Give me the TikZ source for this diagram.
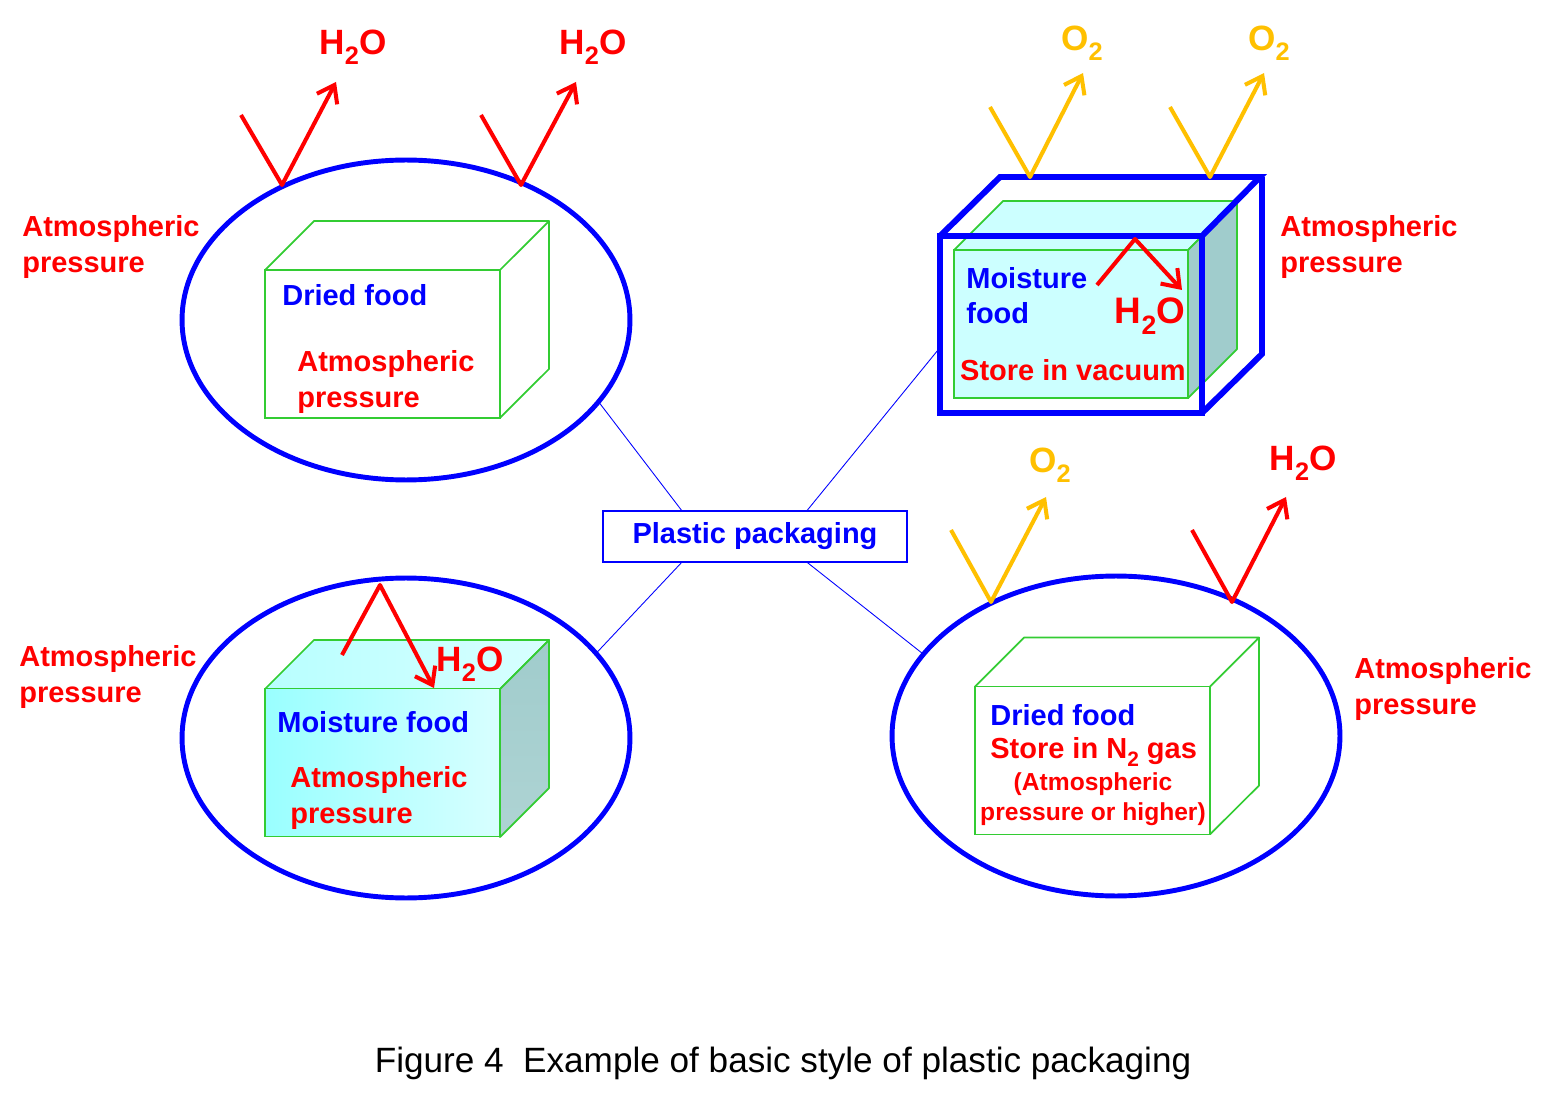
\documentclass[tikz,border=0pt]{standalone}
\usepackage{fontspec}
\setmainfont{Liberation Sans}
\usepackage{tikz}
\usetikzlibrary{shapes.geometric,arrows.meta,calc}

\definecolor{boxgreen}{HTML}{33CC33}
\definecolor{gold}{HTML}{FFC000}
\definecolor{cyandark}{HTML}{99FFFF}
\definecolor{cyanlight}{HTML}{D8FFFF}
\definecolor{cyanflat}{HTML}{CCFFFF}
\definecolor{sideteal}{HTML}{A0CCCC}

\newcommand{\lowsub}[1]{\raisebox{-0.28em}{\scalebox{0.72}{#1}}}

\tikzset{
  bag/.style={ellipse,draw=blue,line width=2.8pt,minimum width=8.96cm,minimum height=6.4cm,inner sep=0,outer sep=0},
  face/.style={rectangle,draw=boxgreen,line width=1pt,minimum width=4.7cm,minimum height=2.96cm,inner sep=0,outer sep=0},
  edge/.style={draw=boxgreen,line width=1pt,line join=round},
  redtxt/.style={text=red,font=\bfseries\fontsize{16.5}{20}\selectfont,align=left,inner sep=0},
  bluetxt/.style={text=blue,font=\bfseries\fontsize{16.5}{20}\selectfont,align=left,inner sep=0},
  gas/.style={font=\bfseries\fontsize{20}{24}\selectfont,inner sep=0},
  flow/.style={line width=2.3pt,line join=round,-{Straight Barb[length=9pt,width=13pt,line width=2.3pt]}},
  link/.style={blue,line width=0.5pt}
}

\begin{document}
\begin{tikzpicture}[x=0.02cm,y=-0.02cm]
\useasboundingbox (0,0) rectangle (1558,1104);

%vrecke
\node[bag] (ell1) at (406,320) {};
\node[bag] (ell2) at (406,738) {};
\node[bag] (ell3) at (1116,736) {};

%suha hrana zgoraj levo
\node[face] (b1) at (382.5,344) {};
\draw[edge] (b1.north west) -- ++(49,-49) -- ++(235,0) -- (b1.north east)
  (b1.north east) ++(49,-49) -- ++(0,148) -- (b1.south east);
\node[bluetxt,anchor=west] (t1) at (282,295) {Dried food};
\node[redtxt,anchor=west] (t2) at (297,382) {Atmospheric\\pressure};

%vlazna hrana spodaj levo
\filldraw[edge,left color=cyandark!70,right color=cyanlight] (265,689) -- ++(49,-49) -- ++(235,0) -- ++(-49,49) -- cycle;
\filldraw[edge,top color=sideteal,bottom color=sideteal!85!white] (500,689) -- ++(49,-49) -- ++(0,148) -- ++(-49,49) -- cycle;
\node[face,left color=cyandark,right color=cyanlight] (b2) at (382.5,762.5) {};
\node[bluetxt,anchor=west] (t3) at (277,722) {Moisture food};
\node[redtxt,anchor=west] (t4) at (290,798) {Atmospheric\\pressure};
\draw[flow,red] (342,655) -- (380,585) -- (434,688);
\node[gas,text=red] (w2) at (470,664) {H\lowsub{2}O};

%vakuum zgoraj desno
\filldraw[edge,fill=cyanflat] (954,250) -- ++(49,-49) -- ++(234,0) -- ++(-49,49) -- cycle;
\filldraw[edge,fill=sideteal] (1188,250) -- ++(49,-49) -- ++(0,148) -- ++(-49,49) -- cycle;
\node[face,minimum width=4.68cm,fill=cyanflat] (b3) at (1071,324) {};
\node[rectangle,draw=blue,line width=3.4pt,minimum width=5.24cm,minimum height=3.54cm,inner sep=0,outer sep=0] (vac) at (1071,324.5) {};
\draw[blue,line width=3.4pt] (vac.north west) -- ++(60,-59) -- ++(260,0) -- (vac.north east)
  (vac.north east) ++(60,-59) -- ++(0,177) -- (vac.south east);
\node[bluetxt,anchor=west] (t5) at (966,296) {Moisture\\food};
\node[gas,text=red,font=\bfseries\fontsize{21}{24}\selectfont] (w3) at (1150,316) {H\lowsub{2}O};
\node[redtxt] (t6) at (1073,370) {Store in vacuum};
\draw[flow,red] (1097,285) -- (1135,239) -- (1182,290);

%dusik spodaj desno
\node[face] (b4) at (1092.5,760.5) {};
\draw[edge] (b4.north west) -- ++(49,-49) -- ++(235,0) -- (b4.north east)
  (b4.north east) ++(49,-49) -- ++(0,148) -- (b4.south east);
\node[bluetxt,anchor=west] (t7) at (990,715) {Dried food};
\node[redtxt,anchor=west] (t8) at (990,752) {Store in N\lowsub{2} gas};
\node[redtxt,align=center,font=\bfseries\fontsize{14}{17}\selectfont] (t9) at (1093,799) {(Atmospheric\\pressure or higher)};

%prepustnost
\draw[flow,red] (241,115) -- (282,185) -- (336,82);
\draw[flow,red] (481,115) -- (521,185) -- (576,82);
\node[gas,text=red] (w1a) at (353,47) {H\lowsub{2}O};
\node[gas,text=red] (w1b) at (593,47) {H\lowsub{2}O};
\draw[flow,gold] (990,107) -- (1030,177) -- (1083,73);
\draw[flow,gold] (1170,107) -- (1210,177) -- (1264,73);
\node[gas,text=gold] (o3a) at (1082,43) {O\lowsub{2}};
\node[gas,text=gold] (o3b) at (1269,43) {O\lowsub{2}};
\draw[flow,gold] (951,530) -- (991,602) -- (1046,497);
\draw[flow,red] (1192,530) -- (1232,602) -- (1286,497);
\node[gas,text=gold] (o4) at (1050,465) {O\lowsub{2}};
\node[gas,text=red] (w4) at (1303,463) {H\lowsub{2}O};

%zunanji tlak
\node[redtxt,anchor=west] (p1) at (22,247) {Atmospheric\\pressure};
\node[redtxt,anchor=west] (p2) at (19,677) {Atmospheric\\pressure};
\node[redtxt,anchor=west] (p3) at (1280,247) {Atmospheric\\pressure};
\node[redtxt,anchor=west] (p4) at (1354,689) {Atmospheric\\pressure};

%sredina in povezave
\node[rectangle,draw=blue,line width=1.2pt,minimum width=6.08cm,minimum height=1.02cm,outer sep=0,bluetxt] (pp) at (755,536.5) {Plastic packaging};
\draw[link] ($(pp.north west)!0.26!(pp.north east)$) -- (ell1.-23);
\draw[link] ($(pp.north west)!0.67!(pp.north east)$) -- ($(vac.north west)!0.63!(vac.south west)$);
\draw[link] ($(pp.south west)!0.26!(pp.south east)$) -- (ell2.24);
\draw[link] ($(pp.south west)!0.67!(pp.south east)$) -- (ell3.157);

%napis
\node[font=\fontsize{20}{24}\selectfont,inner sep=0] (cap) at (783,1063) {Figure 4\ \ Example of basic style of plastic packaging};

\end{tikzpicture}
\end{document}
